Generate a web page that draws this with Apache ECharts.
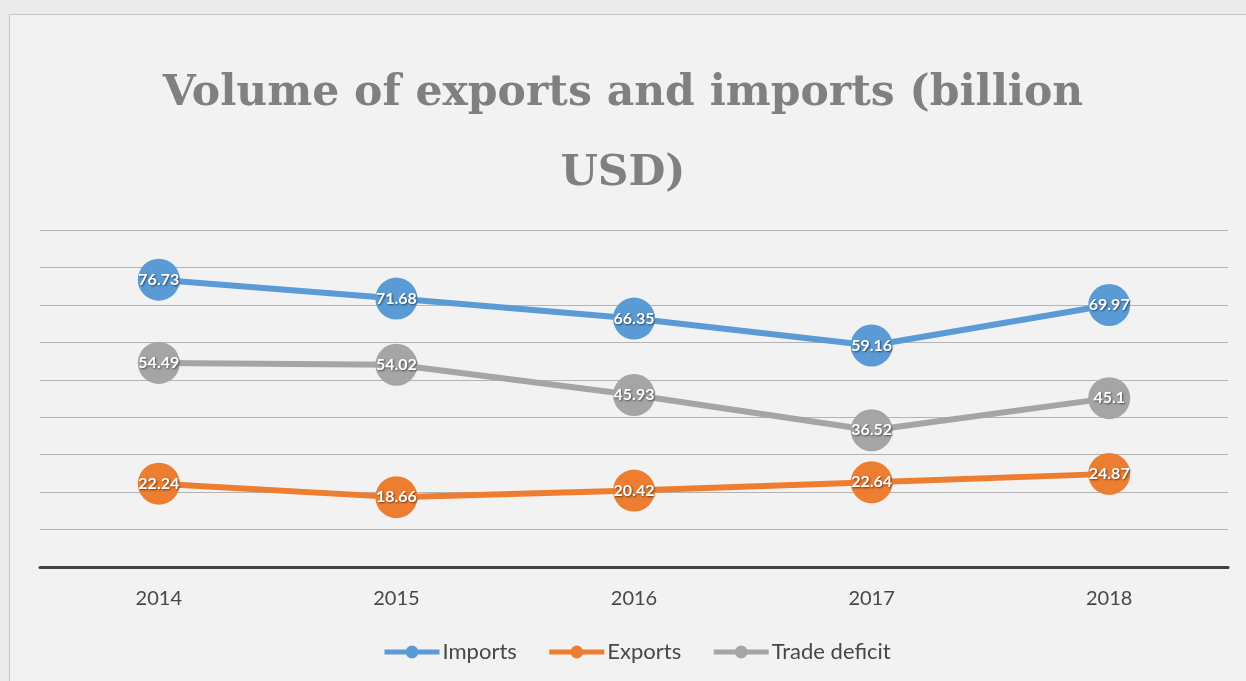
<!DOCTYPE html>
<html>
<head>
<meta charset="utf-8">
<script src="https://cdn.jsdelivr.net/npm/echarts@6/dist/echarts.min.js"></script>
<style>
  html, body { margin: 0; padding: 0; background: #ebe9e9; }
  .frame {
    position: absolute; left: 9px; top: 14px; right: -2px; bottom: -2px;
    background: #f2f2f2; border: 1px solid #c6c6c6;
  }
  #chart { position: absolute; left: 0; top: 0; width: 1246px; height: 681px; }
</style>
</head>
<body>
<div class="frame"></div>
<div id="chart"></div>
<script>
// chart data
const years = ['2014', '2015', '2016', '2017', '2018']
const imports = [76.73, 71.68, 66.35, 59.16, 69.97]
const exports_ = [22.24, 18.66, 20.42, 22.64, 24.87]
const tradeDeficit = [54.49, 54.02, 45.93, 36.52, 45.1]

const textFont = 'Lato, "Open Sans", sans-serif'

function lineSeries(name, data, color) {
  return {
    name: name,
    type: 'line',
    data: data,
    symbol: 'circle',
    symbolSize: 42,
    lineStyle: { color: color, width: 6 },
    itemStyle: { color: color },
    label: {
      show: true,
      position: 'inside',
      color: '#fff',
      fontFamily: textFont,
      fontWeight: 'bold',
      fontSize: 16,
      textShadowColor: 'rgba(0,0,0,0.55)',
      textShadowBlur: 2,
      textShadowOffsetX: 1,
      textShadowOffsetY: 1
    },
    emphasis: { disabled: true },
    animation: false
  }
}

const chart = echarts.init(document.getElementById('chart'))
chart.setOption({
  backgroundColor: 'transparent',
  title: {
    text: 'Volume of exports and imports (billion\nUSD)',
    left: 'center',
    top: 49,
    textStyle: {
      fontFamily: '"DejaVu Serif", serif',
      fontWeight: 'bold',
      fontSize: 42.5,
      lineHeight: 80,
      color: '#808080'
    }
  },
  legend: {
    bottom: 13,
    left: 377,
    itemWidth: 55,
    itemHeight: 16,
    itemGap: 30,
    lineStyle: { width: 5 },
    textStyle: { color: '#474747', fontSize: 22, fontFamily: textFont, padding: [0, 0, 0, -2] },
    data: ['Imports', 'Exports', 'Trade deficit']
  },
  grid: { left: 40, right: 18, top: 230, bottom: 114 },
  xAxis: {
    type: 'category',
    data: years,
    axisLine: { lineStyle: { color: '#404040', width: 3 } },
    axisTick: { show: false },
    axisLabel: { color: '#474747', fontSize: 20, fontFamily: textFont, margin: 22 }
  },
  yAxis: {
    type: 'value',
    min: 0,
    max: 90,
    interval: 10,
    axisLabel: { show: false },
    axisLine: { show: false },
    axisTick: { show: false },
    splitLine: { lineStyle: { color: '#b4b4b4', width: 1 } }
  },
  series: [
    lineSeries('Imports', imports, '#5b9bd5'),
    lineSeries('Exports', exports_, '#ed7d31'),
    lineSeries('Trade deficit', tradeDeficit, '#a5a5a5')
  ]
})
</script>
</body>
</html>
